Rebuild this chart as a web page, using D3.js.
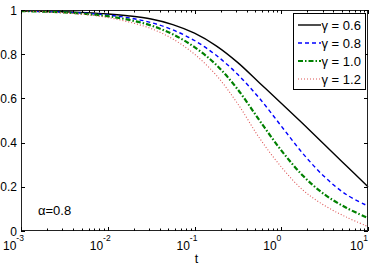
<!DOCTYPE html>
<html><head><meta charset="utf-8">
<script src="https://cdn.jsdelivr.net/npm/d3@7"></script>
<style>
body{margin:0;background:#fff;}
svg text{font-family:"Liberation Sans",Arial,sans-serif;fill:#000;}
</style></head>
<body><svg id="c" width="382" height="267"></svg>
<script>
// ---- data ----
const tValues = [0.001, 0.00178, 0.00316, 0.00562, 0.01, 0.0178, 0.0316, 0.0562, 0.1, 0.178, 0.316, 0.562, 1, 1.78, 3.16, 5.62, 10];
const gammaLabels = ["γ = 0.6", "γ = 0.8", "γ = 1.0", "γ = 1.2"];
const g06 = [0.995, 0.994, 0.992, 0.988, 0.982, 0.973, 0.959, 0.934, 0.895, 0.838, 0.762, 0.67, 0.578, 0.485, 0.39, 0.295, 0.20];
const g08 = [0.995, 0.993, 0.99, 0.985, 0.977, 0.964, 0.943, 0.91, 0.862, 0.795, 0.708, 0.60, 0.475, 0.35, 0.245, 0.165, 0.113];
const g10 = [0.995, 0.993, 0.989, 0.982, 0.972, 0.955, 0.93, 0.89, 0.832, 0.752, 0.64, 0.50, 0.365, 0.25, 0.165, 0.105, 0.059];
const g12 = [0.995, 0.992, 0.987, 0.979, 0.966, 0.945, 0.916, 0.869, 0.80, 0.705, 0.575, 0.42, 0.29, 0.185, 0.115, 0.063, 0.02];
const yTicks = [0, 0.2, 0.4, 0.6, 0.8, 1];
const yTickLabels = ["0", "0.2", "0.4", "0.6", "0.8", "1"];
const xTicks = [0.001, 0.01, 0.1, 1, 10];
const xTickExps = ["-3", "-2", "-1", "0", "1"];
const annotation = "α=0.8";
const xLabel = "t";

const series = [
  {label: gammaLabels[0], values: g06, color: "#000000", width: 1.4, dash: null},
  {label: gammaLabels[1], values: g08, color: "#0000ff", width: 1.4, dash: "4,3"},
  {label: gammaLabels[2], values: g10, color: "#008000", width: 2.2, dash: "5,2,1.5,2"},
  {label: gammaLabels[3], values: g12, color: "#dd5555", width: 1.1, dash: "1,2"}
];

const L = 21, R = 368, T = 10, B = 231;
const svg = d3.select("#c");
const x = d3.scaleLog().domain([1e-3, 10]).range([L, R]);
const y = d3.scaleLinear().domain([0, 1]).range([B, T]);

const line = d3.line().x(d => x(d[0])).y(d => y(d[1])).curve(d3.curveCatmullRom.alpha(0.5));
const plot = svg.append("g");
series.forEach(s => {
  plot.append("path")
    .attr("d", line(tValues.map((t, i) => [t, s.values[i]])))
    .attr("fill", "none").attr("stroke", s.color)
    .attr("stroke-width", s.width)
    .attr("stroke-dasharray", s.dash);
});

const ax = svg.append("g").attr("stroke", "#000").attr("stroke-width", 1).attr("fill", "none");
ax.append("rect").attr("x", L + 0.5).attr("y", T + 0.5).attr("width", R - L - 1).attr("height", B - T - 1).attr("stroke","#222");

const minor = [];
for (let e = -3; e < 1; e++) for (let m = 2; m <= 9; m++) minor.push(m * Math.pow(10, e));
minor.forEach(t => {
  const px = Math.round(x(t)) + 0.5;
  ax.append("line").attr("x1", px).attr("x2", px).attr("y1", B).attr("y2", B - 2.5);
  ax.append("line").attr("x1", px).attr("x2", px).attr("y1", T).attr("y2", T + 2.5);
});
xTicks.forEach(t => {
  const px = Math.round(x(t)) + 0.5;
  ax.append("line").attr("x1", px).attr("x2", px).attr("y1", B).attr("y2", B - 4);
  ax.append("line").attr("x1", px).attr("x2", px).attr("y1", T).attr("y2", T + 4);
});
yTicks.forEach(v => {
  const py = Math.round(y(v)) + 0.5;
  ax.append("line").attr("x1", L).attr("x2", L + 4).attr("y1", py).attr("y2", py);
  ax.append("line").attr("x1", R).attr("x2", R - 4).attr("y1", py).attr("y2", py);
});

yTicks.forEach((v, i) => {
  svg.append("text").attr("x", 17).attr("y", y(v) + 4.5)
    .attr("text-anchor", "end").attr("font-size", 12).text(yTickLabels[i]);
});
xTicks.forEach((t, i) => {
  const tx = svg.append("text").attr("x", x(t) - 18).attr("y", 250).attr("font-size", 12);
  tx.append("tspan").text("10");
  tx.append("tspan").attr("dy", -9).attr("font-size", 8.5).text(xTickExps[i]);
});
svg.append("text").attr("x", x(0.1) + 2).attr("y", 263).attr("text-anchor", "middle").attr("font-size", 12.5).text(xLabel);
svg.append("text").attr("x", 38).attr("y", 214.5).attr("font-size", 13).text(annotation);

const lg = svg.append("g");
lg.append("rect").attr("x", 293.5).attr("y", 13.5).attr("width", 72).attr("height", 76)
  .attr("fill", "#fff").attr("stroke", "#000").attr("stroke-width", 1);
series.forEach((s, i) => {
  const cy = 25 + i * 18;
  lg.append("line").attr("x1", 298).attr("x2", 321).attr("y1", cy).attr("y2", cy)
    .attr("stroke", s.color).attr("stroke-width", s.width).attr("stroke-dasharray", s.dash);
  lg.append("text").attr("x", 321.5).attr("y", cy + 4.5).attr("font-size", 13).text(s.label);
});
</script></body></html>
